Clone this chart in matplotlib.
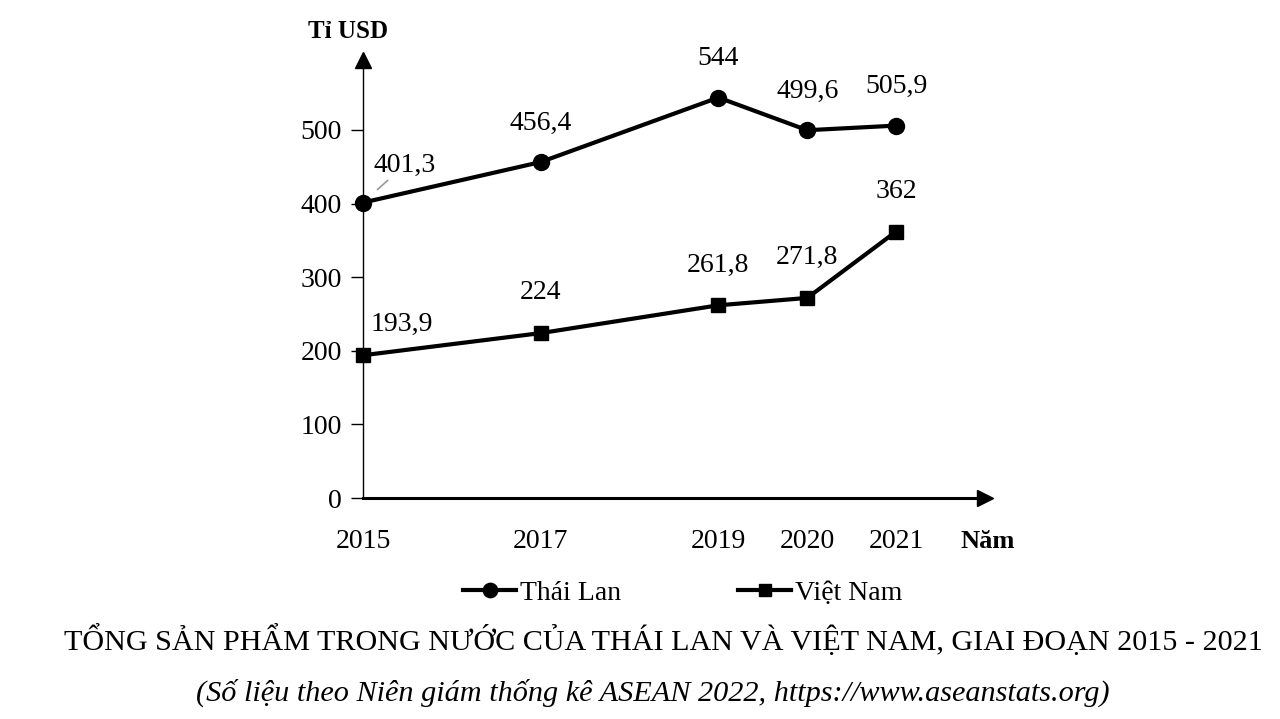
import matplotlib
matplotlib.use("Agg")
import matplotlib.pyplot as plt

plt.rcParams['font.family'] = ['Liberation Serif', 'DejaVu Serif']

years = [2015, 2017, 2019, 2020, 2021]
year_labels = ["2015", "2017", "2019", "2020", "2021"]
thai = [401.3, 456.4, 544, 499.6, 505.9]
viet = [193.9, 224, 261.8, 271.8, 362]
thai_labels = ["401,3", "456,4", "544", "499,6", "505,9"]
viet_labels = ["193,9", "224", "261,8", "271,8", "362"]
yticks = [0, 100, 200, 300, 400, 500]

W, H = 1280, 719
fig = plt.figure(figsize=(W / 100, H / 100), dpi=100)

def fx(px):
    return px / W

def fy(py):
    return 1 - py / H

FS = 20

# axes: left edge at x=363px, right at 985px; bottom at y=498px, top at y=60px
ax = fig.add_axes([fx(363), fy(498), fx(985) - fx(363), fy(60) - fy(498)])
ax.set_xlim(2015, 2022)
ax.set_ylim(0, 595)
for s in ["top", "right"]:
    ax.spines[s].set_visible(False)
ax.spines["left"].set_linewidth(1.0)
ax.spines["bottom"].set_linewidth(2.2)
ax.spines["left"].set_zorder(1)

# arrow heads
ax.plot(1, 0, marker=">", color="black", markersize=11, transform=ax.transAxes, clip_on=False)
ax.plot(0, 1, marker="^", color="black", markersize=11, transform=ax.transAxes, clip_on=False)

ax.set_yticks(yticks)
ax.set_yticklabels([str(v) for v in yticks])
ax.tick_params(axis="y", length=9, width=1, pad=6, labelsize=FS)
ax.set_xticks(years)
ax.set_xticklabels(year_labels)
ax.tick_params(axis="x", length=0, pad=22, labelsize=FS)

ln1, = ax.plot(years, thai, color="black", lw=3.0, marker="o", markersize=11.5,
               clip_on=False, zorder=5, label="Thái Lan")
ln2, = ax.plot(years, viet, color="black", lw=3.0, marker="s", markersize=10,
               clip_on=False, zorder=5, label="Việt Nam")

# data labels
for i, (x, y) in enumerate(zip(years, thai)):
    if i == 0:
        ax.annotate(thai_labels[i], (x, y), xytext=(30, 27), textcoords="offset points",
                    ha="center", va="center", fontsize=FS,
                    arrowprops=dict(arrowstyle="-", color="#9a9a9a", lw=1.2,
                                    shrinkA=0, shrinkB=14))
    else:
        ax.annotate(thai_labels[i], (x, y), xytext=(0, 28), textcoords="offset points",
                    ha="center", va="center", fontsize=FS)
for i, (x, y) in enumerate(zip(years, viet)):
    if i == 0:
        off = (28, 22)
    else:
        off = (0, 29)
    ax.annotate(viet_labels[i], (x, y), xytext=off, textcoords="offset points",
                ha="center", va="center", fontsize=FS)

# axis titles
fig.text(fx(348), fy(31), "Tỉ USD", ha="center", va="center", fontsize=18, fontweight="bold")
fig.text(fx(988), fy(541), "Năm", ha="center", va="center", fontsize=19, fontweight="bold")

# legend
leg = fig.legend(handles=[ln1, ln2], loc="center", bbox_to_anchor=(fx(683), fy(593)),
                 ncol=2, frameon=False, fontsize=FS, handlelength=1.9, handletextpad=0.15,
                 columnspacing=4.2, borderpad=0, markerscale=0.9)

# titles
t1 = fig.text(fx(663), fy(640), "TỔNG SẢN PHẨM TRONG NƯỚC CỦA THÁI LAN VÀ VIỆT NAM, GIAI ĐOẠN 2015 - 2021",
              ha="center", va="center", fontsize=24)
t2 = fig.text(fx(653), fy(693), "(Số liệu theo Niên giám thống kê ASEAN 2022, https://www.aseanstats.org)",
              ha="center", va="center", fontsize=22, style="italic")

# fit title widths
fig.canvas.draw()
r = fig.canvas.get_renderer()
for t, target in [(t1, 1200), (t2, 913)]:
    w = t.get_window_extent(r).width
    t.set_fontsize(t.get_fontsize() * target / w)

fig.savefig("out.png", dpi=100)
